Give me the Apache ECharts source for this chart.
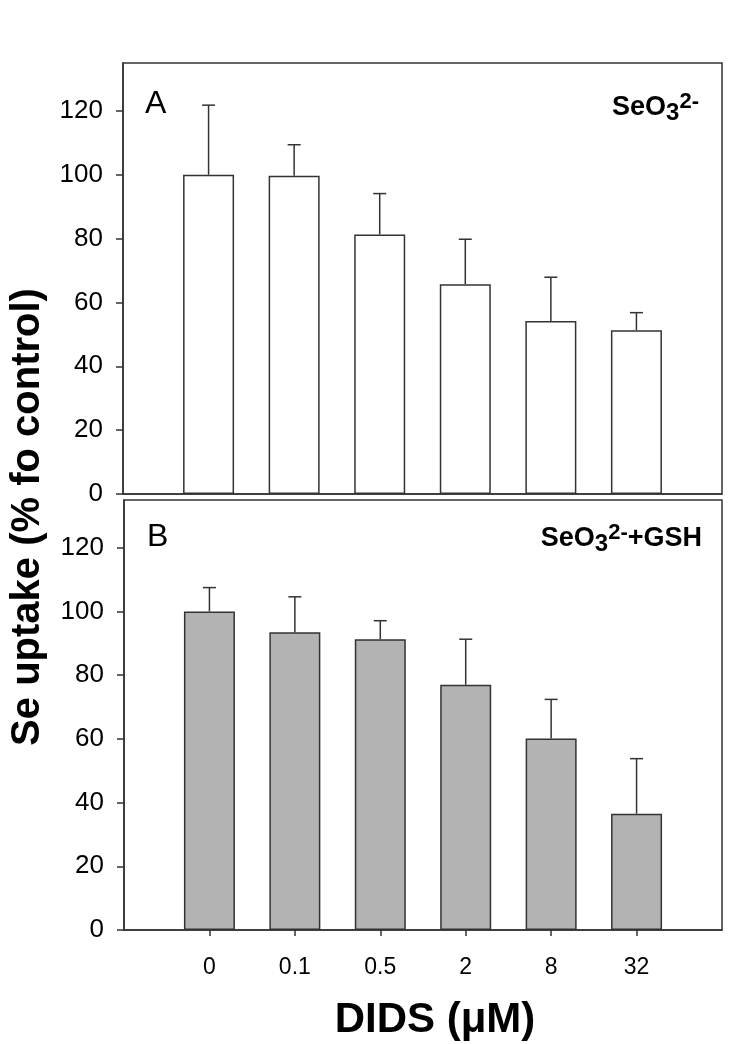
<!DOCTYPE html>
<html>
<head>
<meta charset="utf-8">
<script src="https://cdn.jsdelivr.net/npm/echarts@6/dist/echarts.min.js"></script>
<style>
html,body{margin:0;padding:0;background:#fff;}
#chart{width:755px;height:1044px;}
</style>
</head>
<body>
<div id="chart"></div>
<script>
// ---- data ----
const categories = ['0', '0.1', '0.5', '2', '8', '32'];
const seleniteMeans = [100, 99.7, 81.3, 65.7, 54.2, 51.3];
const seleniteErr = [21.8, 9.7, 12.8, 14.1, 13.7, 5.5];
const gshMeans = [100, 93.5, 91.3, 77.0, 60.1, 36.5];
const gshErr = [7.5, 11.1, 5.8, 14.3, 12.3, 17.3];
const yTicks = [0, 20, 40, 60, 80, 100, 120];
const xTitle = 'DIDS (\u03bcM)';
const yTitle = 'Se uptake (% fo control)';

// ---- build ----
const FONT = '"Liberation Sans", Arial, Helvetica, sans-serif';
const LINE = '#333';
const xCats = [' '].concat(categories, ['  ']);

function barData(vals) { return vals.map((v, i) => [i + 1, v]); }
function errData(vals, errs) { return vals.map((v, i) => [i + 1, v, errs[i]]); }

function errRender(params, api) {
  const x = api.value(0), v = api.value(1), e = api.value(2);
  const p0 = api.coord([x, v]);
  const p1 = api.coord([x, v + e]);
  const hw = 6.5;
  const st = { stroke: LINE, lineWidth: 1.5 };
  return {
    type: 'group',
    children: [
      { type: 'line', shape: { x1: p0[0], y1: p0[1], x2: p1[0], y2: p1[1] }, style: st },
      { type: 'line', shape: { x1: p1[0] - hw, y1: p1[1], x2: p1[0] + hw, y2: p1[1] }, style: st }
    ]
  };
}

function yAxisCfg(gi) {
  return {
    type: 'value', gridIndex: gi, min: 0, max: 135, interval: 20,
    axisLine: { show: true, lineStyle: { color: LINE, width: 1.5 } },
    axisTick: { show: true, length: 7, customValues: yTicks, lineStyle: { color: LINE, width: 1.5 } },
    axisLabel: { customValues: yTicks, margin: 20, fontSize: 26, color: '#000', fontFamily: FONT },
    splitLine: { show: false }
  };
}

function xAxisCfg(gi, showLabels) {
  return {
    type: 'category', gridIndex: gi, data: xCats, boundaryGap: false,
    axisLine: { show: true, lineStyle: { color: LINE, width: 1.5 } },
    axisTick: {
      show: showLabels, length: 6,
      interval: (idx, val) => categories.indexOf(val) >= 0,
      lineStyle: { color: LINE, width: 1.5 }
    },
    axisLabel: {
      show: showLabels, margin: 26, fontSize: 23, color: '#000', fontFamily: FONT,
      interval: 0
    },
    splitLine: { show: false }
  };
}

const subRich = {
  m: { fontSize: 27, fontWeight: 'bold', fontFamily: FONT, color: '#000', lineHeight: 34, verticalAlign: 'middle' },
  s: { fontSize: 24, fontWeight: 'bold', fontFamily: FONT, color: '#000', lineHeight: 16, verticalAlign: 'bottom' },
  p: { fontSize: 22, fontWeight: 'bold', fontFamily: FONT, color: '#000', lineHeight: 14, verticalAlign: 'top' }
};

const option = {
  animation: false,
  backgroundColor: '#fff',
  grid: [
    { left: 123, right: 33, top: 63, height: 431, show: true, borderColor: LINE, borderWidth: 1.5, backgroundColor: 'transparent' },
    { left: 124, right: 33, top: 500, height: 430, show: true, borderColor: LINE, borderWidth: 1.5, backgroundColor: 'transparent' }
  ],
  xAxis: [xAxisCfg(0, false), xAxisCfg(1, true)],
  yAxis: [yAxisCfg(0), yAxisCfg(1)],
  series: [
    { type: 'bar', xAxisIndex: 0, yAxisIndex: 0, data: barData(seleniteMeans), barWidth: 51,
      itemStyle: { color: '#ffffff', borderColor: LINE, borderWidth: 1.5 }, z: 2 },
    { type: 'custom', xAxisIndex: 0, yAxisIndex: 0, data: errData(seleniteMeans, seleniteErr),
      renderItem: errRender, encode: { x: 0, y: 1 }, z: 3 },
    { type: 'bar', xAxisIndex: 1, yAxisIndex: 1, data: barData(gshMeans), barWidth: 51,
      itemStyle: { color: '#b3b3b3', borderColor: LINE, borderWidth: 1.5 }, z: 2 },
    { type: 'custom', xAxisIndex: 1, yAxisIndex: 1, data: errData(gshMeans, gshErr),
      renderItem: errRender, encode: { x: 0, y: 1 }, z: 3 }
  ],
  graphic: [
    { type: 'text', x: 145, y: 104, style: { text: 'A', font: 'normal 32px ' + FONT, fill: '#000', textAlign: 'left', textVerticalAlign: 'middle', align: 'left', verticalAlign: 'middle' } },
    { type: 'text', x: 147, y: 537, style: { text: 'B', font: 'normal 32px ' + FONT, fill: '#000', textAlign: 'left', textVerticalAlign: 'middle', align: 'left', verticalAlign: 'middle' } },
    { type: 'text', x: 699, y: 108, style: { text: '{m|SeO}{s|3}{p|2-}', rich: subRich, textAlign: 'right', textVerticalAlign: 'middle', align: 'right', verticalAlign: 'middle' } },
    { type: 'text', x: 702, y: 539, style: { text: '{m|SeO}{s|3}{p|2-}{m|+GSH}', rich: subRich, textAlign: 'right', textVerticalAlign: 'middle', align: 'right', verticalAlign: 'middle' } },
    { type: 'text', x: 435, y: 1020, style: { text: xTitle, font: 'bold 42px ' + FONT, fill: '#000', textAlign: 'center', textVerticalAlign: 'middle', align: 'center', verticalAlign: 'middle' } },
    { type: 'text', x: 28, y: 517, rotation: Math.PI / 2, style: { text: yTitle, font: 'bold 40px ' + FONT, fill: '#000', textAlign: 'center', textVerticalAlign: 'middle', align: 'center', verticalAlign: 'middle' } }
  ]
};

const chart = echarts.init(document.getElementById('chart'), null, { renderer: 'canvas' });
chart.setOption(option);
</script>
</body>
</html>
